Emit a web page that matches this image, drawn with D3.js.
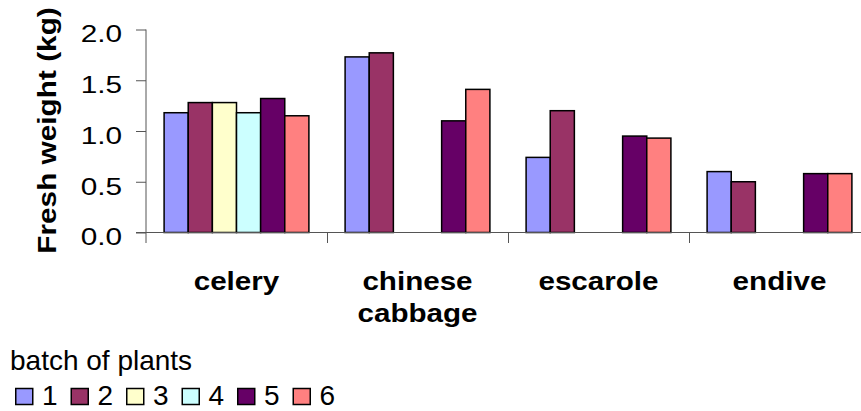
<!DOCTYPE html>
<html>
<head>
<meta charset="utf-8">
<script src="https://cdn.jsdelivr.net/npm/d3@7"></script>
<style>
  html, body { margin: 0; padding: 0; background: #fff; }
  svg { display: block; }
  text { font-family: "Liberation Sans", Arial, sans-serif; fill: #000; }
</style>
</head>
<body>
<div id="chart"></div>
<script>
// ---- data ----
const categories = ["celery", "chinese cabbage", "escarole", "endive"];
const categoryLines = [["celery"], ["chinese", "cabbage"], ["escarole"], ["endive"]];
const batches = ["1", "2", "3", "4", "5", "6"];
const batch1 = [1.18, 1.73, 0.74, 0.60];
const batch2 = [1.28, 1.77, 1.20, 0.50];
const batch3 = [1.28, null, null, null];
const batch4 = [1.18, null, null, null];
const batch5 = [1.32, 1.10, 0.95, 0.58];
const batch6 = [1.15, 1.41, 0.93, 0.58];
const batchColors = ["#9999FF", "#993366", "#FFFFCC", "#CCFFFF", "#660066", "#FF8080"];
const yTicks = [0, 0.5, 1.0, 1.5, 2.0];
const yTitle = "Fresh weight (kg)";
const legendTitle = "batch of plants";

const series = [batch1, batch2, batch3, batch4, batch5, batch6];

// ---- layout ----
const W = 861, H = 411;
const plotLeft = 146, plotTop = 29.5, plotBottom = 232.5;
const bandW = 181;

const svg = d3.select("#chart").append("svg").attr("width", W).attr("height", H);

function stretch(sel, k) {
  sel.each(function () {
    const L = this.getComputedTextLength();
    this.setAttribute("textLength", L * k);
    this.setAttribute("lengthAdjust", "spacingAndGlyphs");
  });
}

const y = d3.scaleLinear().domain([0, 2]).range([plotBottom, plotTop]);
const x0 = d3.scaleBand().domain(categories)
  .range([plotLeft, plotLeft + bandW * categories.length]).padding(0);
const x1 = d3.scaleBand().domain(batches)
  .range([x0.bandwidth() * 0.1, x0.bandwidth() * 0.9]).padding(0);

const axisColor = "#555";

// y axis
const yAxis = svg.append("g")
  .attr("transform", `translate(${plotLeft},0)`)
  .call(d3.axisLeft(y).tickValues(yTicks).tickFormat(d3.format(".1f")).tickSize(10).tickPadding(14));
yAxis.select(".domain").remove();
yAxis.selectAll(".tick line").attr("stroke", axisColor);
yAxis.selectAll(".tick text")
  .attr("font-size", 24).attr("font-family", "Liberation Sans, Arial, sans-serif")
  .attr("dy", 12.3).attr("fill", "#000");
stretch(yAxis.selectAll(".tick text"), 1.24);

// y axis line (extends down to boundary tick length)
svg.append("line")
  .attr("x1", plotLeft).attr("x2", plotLeft)
  .attr("y1", y(2)).attr("y2", plotBottom + 10.5)
  .attr("stroke", axisColor).attr("stroke-width", 1);

// bars
const groups = svg.append("g").selectAll("g.cat")
  .data(categories)
  .join("g")
  .attr("class", "cat")
  .attr("transform", d => `translate(${x0(d)},0)`);

groups.selectAll("rect")
  .data((c, ci) => batches.map((b, bi) => ({ b, bi, v: series[bi][ci] })).filter(d => d.v != null))
  .join("rect")
  .attr("x", d => x1(d.b))
  .attr("width", x1.bandwidth())
  .attr("y", d => y(d.v))
  .attr("height", d => y(0) - y(d.v))
  .attr("fill", d => batchColors[d.bi])
  .attr("stroke", "#000")
  .attr("stroke-width", 1.5);

// x axis
svg.append("line")
  .attr("x1", plotLeft - 10).attr("x2", W)
  .attr("y1", plotBottom).attr("y2", plotBottom)
  .attr("stroke", axisColor).attr("stroke-width", 1);

const boundaries = categories.map(c => x0(c)).concat([x0.range()[1]]);
svg.append("g").selectAll("line")
  .data(boundaries.slice(1))
  .join("line")
  .attr("x1", d => Math.round(d) + 0.5).attr("x2", d => Math.round(d) + 0.5)
  .attr("y1", plotBottom).attr("y2", plotBottom + 10.5)
  .attr("stroke", axisColor).attr("stroke-width", 1);

// category labels
const catText = svg.append("g").selectAll("text")
  .data(categories)
  .join("text")
  .attr("text-anchor", "middle")
  .attr("font-size", 25.5)
  .attr("font-weight", "bold");
catText.each(function (c, i) {
  const cx = x0(c) + x0.bandwidth() / 2;
  d3.select(this).selectAll("tspan")
    .data(categoryLines[i])
    .join("tspan")
    .attr("x", cx)
    .attr("y", (d, j) => 290 + j * 31.7)
    .text(d => d);
});
catText.selectAll("tspan").each(function () {
  const L = this.getComputedTextLength();
  this.setAttribute("textLength", L * 1.16);
  this.setAttribute("lengthAdjust", "spacingAndGlyphs");
});

// y title
const yt = svg.append("text")
  .attr("transform", `translate(55.5,${(13 + 248) / 2}) rotate(-90)`)
  .attr("text-anchor", "middle")
  .attr("font-size", 26)
  .attr("font-weight", "bold")
  .text(yTitle);
stretch(yt, 1.145);

// legend
svg.append("text")
  .attr("x", 10).attr("y", 369.5)
  .attr("font-size", 28)
  .text(legendTitle);

const legendStep = 55.5;
const leg = svg.append("g").selectAll("g")
  .data(batches)
  .join("g")
  .attr("transform", (d, i) => `translate(${15 + i * legendStep},0)`);
leg.append("rect")
  .attr("x", 0.75).attr("y", 388.5)
  .attr("width", 17).attr("height", 16)
  .attr("fill", (d, i) => batchColors[i])
  .attr("stroke", "#000").attr("stroke-width", 1.5);
leg.append("text")
  .attr("x", 27).attr("y", 405)
  .attr("font-size", 28)
  .text(d => d);
</script>
</body>
</html>
